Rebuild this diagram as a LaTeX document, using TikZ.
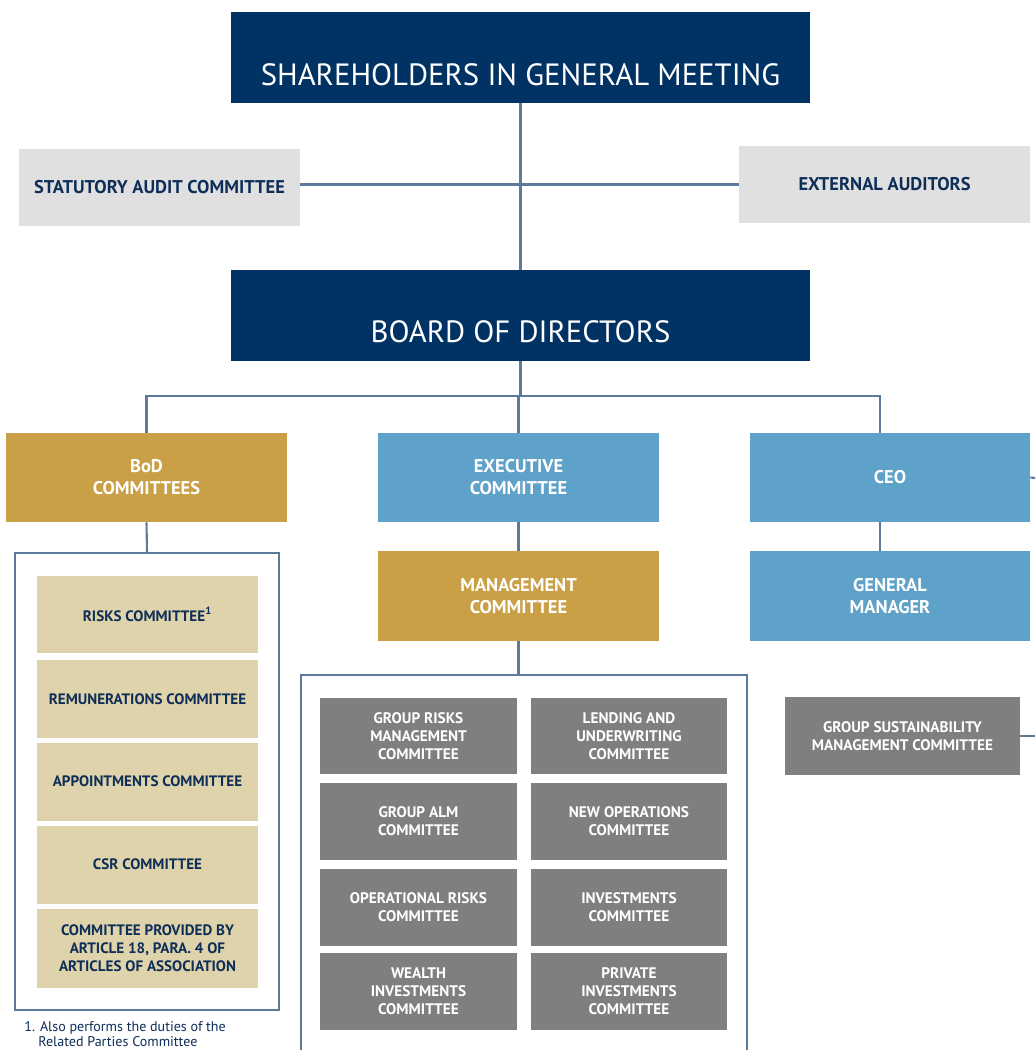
\documentclass[tikz,border=0pt]{standalone}
\usepackage{fontspec}
\setmainfont{PT Sans}
\definecolor{navy}{RGB}{0,50,100}
\definecolor{inknavy}{RGB}{14,46,88}
\definecolor{lightgrey}{RGB}{224,224,224}
\definecolor{gold}{RGB}{201,160,70}
\definecolor{skyblue}{RGB}{94,161,201}
\definecolor{tan}{RGB}{222,211,170}
\definecolor{darkgrey}{RGB}{127,127,127}
\definecolor{linecol}{RGB}{92,122,156}
\tikzset{
  conn/.style={draw=linecol, line width=1.2pt},
  frame/.style={draw=linecol, line width=1pt, fill=white, inner sep=0pt},
  titlebox/.style={fill=navy, minimum width=11.58cm, minimum height=1.82cm, inner sep=0pt},
  titletext/.style={text=white, font=\fontsize{17.5}{20}\selectfont, inner sep=0pt},
  greybox/.style={fill=lightgrey, text=inknavy, font=\bfseries\fontsize{10.5}{12}\selectfont, minimum height=1.56cm, align=center},
  headbox/.style={text=white, font=\bfseries\fontsize{10.5}{12.5}\selectfont, minimum width=5.62cm, minimum height=1.78cm, align=center},
  goldbox/.style={headbox, fill=gold},
  bluebox/.style={headbox, fill=skyblue},
  tanbox/.style={fill=tan, text=inknavy, font=\bfseries\fontsize{8.6}{10.2}\selectfont, minimum width=4.42cm, minimum height=1.56cm, align=center},
  darkbox/.style={fill=darkgrey, text=white, font=\bfseries\fontsize{8.7}{10.2}\selectfont, minimum width=3.94cm, minimum height=1.54cm, align=center},
  note/.style={text=inknavy, font=\fontsize{8}{8.6}\selectfont, align=left, inner sep=0pt}
}
\begin{document}
\begin{tikzpicture}[x=0.02cm,y=-0.02cm]
\useasboundingbox (0,0) rectangle (1035,1050);

% top of the chart
\node[titlebox] (sh) at (520.5,57.5) {};
\node[titletext] (shtext) at (520.5,75) {SHAREHOLDERS IN GENERAL MEETING};
\node[greybox, minimum width=5.62cm] (sac) at (159.5,187.5) {STATUTORY AUDIT COMMITTEE};
\node[greybox, minimum width=5.82cm, minimum height=1.54cm] (ext) at (884.5,184.5) {EXTERNAL AUDITORS};
\node[titlebox] (bod) at (520.5,315.5) {};
\node[titletext] (bodtext) at (520.5,332) {BOARD OF DIRECTORS};

\draw[conn] (sh.south) -- (bod.north);
\draw[conn] (sac.east |- ext.west) -- (ext.west);

% second level
\node[goldbox] (bodc) at (146.5,477.5) {BoD\\COMMITTEES};
\node[bluebox] (exec) at (518.5,477.5) {EXECUTIVE\\COMMITTEE};
\node[bluebox, minimum width=5.6cm] (ceo) at (890,477.5) {CEO};
\node[goldbox, minimum height=1.8cm] (mgmt) at (518.5,596) {MANAGEMENT\\COMMITTEE};
\node[bluebox, minimum width=5.6cm, minimum height=1.8cm] (gm) at (890,596) {GENERAL\\MANAGER};

\coordinate (busl) at (147,396);
\coordinate (busr) at (880,396);
\coordinate (edgeA) at (1035,478);
\draw[conn] (bod.south) -- (bod.south |- busl);
\draw[conn] (bodc.north) |- (busr) -- (ceo.north -| busr);
\draw[conn] (exec.north) -- (exec.north |- busl);
\draw[conn] (exec.south) -- (mgmt.north);
\draw[conn] (ceo.south -| busr) -- (gm.north -| busr);
\draw[conn] (ceo.east) -- (edgeA);

% BoD committees
\node[frame, minimum width=5.28cm, minimum height=9.14cm] (bodframe) at (147,781.5) {};
\draw[conn] (bodc.south) -- (bodframe.north);
\node[tanbox] (risks) at (147.5,614.5) {RISKS COMMITTEE\textsuperscript{1}};
\node[tanbox] (remun) at (147.5,699) {REMUNERATIONS COMMITTEE};
\node[tanbox] (appoint) at (147.5,781.5) {APPOINTMENTS COMMITTEE};
\node[tanbox] (csr) at (147.5,864.5) {CSR COMMITTEE};
\node[tanbox, minimum height=1.58cm] (art) at (147.5,948.5) {COMMITTEE PROVIDED BY\\ARTICLE 18, PARA. 4 OF\\ARTICLES OF ASSOCIATION};
\node[note, anchor=north west] (fnote) at (24,1021) {1. Also performs the duties of the\\\hspace*{1em}Related Parties Committee};

% management committees
\node[frame, minimum width=8.92cm, minimum height=7.9cm] (mgmtframe) at (524,872.5) {};
\draw[conn] (mgmt.south) -- (mgmtframe.north -| mgmt.south);
\node[darkbox] (grm) at (418.5,736) {GROUP RISKS\\MANAGEMENT\\COMMITTEE};
\node[darkbox] (lend) at (629,736) {LENDING AND\\UNDERWRITING\\COMMITTEE};
\node[darkbox] (alm) at (418.5,821.5) {GROUP ALM\\COMMITTEE};
\node[darkbox] (newop) at (629,821.5) {NEW OPERATIONS\\COMMITTEE};
\node[darkbox] (oprisk) at (418.5,907) {OPERATIONAL RISKS\\COMMITTEE};
\node[darkbox] (invest) at (629,907) {INVESTMENTS\\COMMITTEE};
\node[darkbox] (wealth) at (418.5,991.5) {WEALTH\\INVESTMENTS\\COMMITTEE};
\node[darkbox] (priv) at (629,991.5) {PRIVATE\\INVESTMENTS\\COMMITTEE};

% general manager side
\node[darkbox, minimum width=4.7cm, minimum height=1.56cm] (sust) at (902.5,736) {GROUP SUSTAINABILITY\\MANAGEMENT COMMITTEE};
\coordinate (edgeB) at (1035,736);
\draw[conn] (sust.east) -- (edgeB);
\end{tikzpicture}
\end{document}
